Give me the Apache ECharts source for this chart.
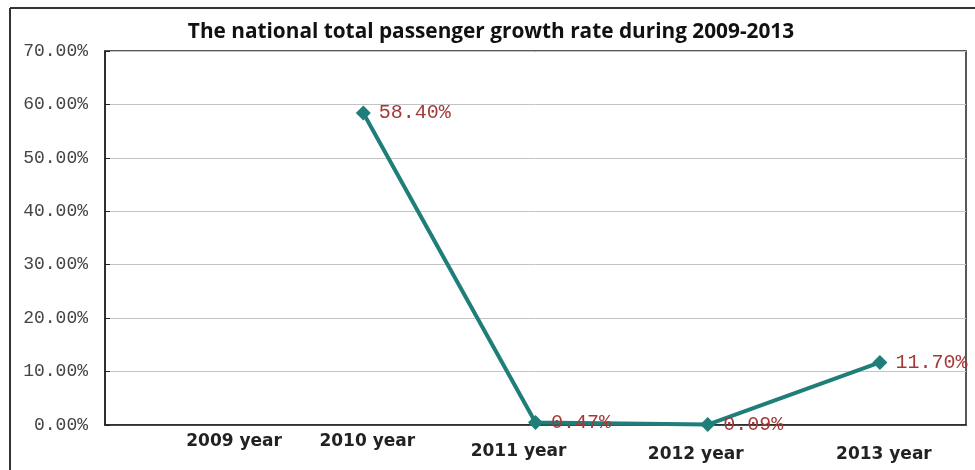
<!DOCTYPE html>
<html>
<head>
<meta charset="utf-8">
<script src="https://cdn.jsdelivr.net/npm/echarts@6/dist/echarts.min.js"></script>
<style>
html,body{margin:0;padding:0;background:#fff;}
#chart{width:975px;height:470px;}
</style>
</head>
<body>
<div id="chart"></div>
<script>
const titleText = 'The national total passenger growth rate during 2009-2013';
const categories = ['2009 year', '2010 year', '2011 year', '2012 year', '2013 year'];
const growthRate = [null, 58.40, 0.47, 0.09, 11.70];
const yTicks = [0, 10, 20, 30, 40, 50, 60, 70];

// per-label nudges of the category labels (as in the original picture)
const labelShiftX = [43, 4, -17, -12, 4];
const labelShiftY = [0, 0, 10, 13, 13];

const rich = {};
categories.forEach((c, i) => {
  const dx = labelShiftX[i], dy = labelShiftY[i];
  rich['l' + i] = {
    fontFamily: 'DejaVu Sans',
    fontWeight: 'bold',
    fontSize: 17,
    color: '#222',
    padding: [dy, dx < 0 ? -2 * dx : 0, 0, dx > 0 ? 2 * dx : 0]
  };
});

const chart = echarts.init(document.getElementById('chart'));
chart.setOption({
  animation: false,
  backgroundColor: '#fff',
  title: {
    text: titleText,
    left: 486,
    textAlign: 'center',
    top: 17,
    textStyle: {fontFamily: 'Open Sans', fontWeight: 700, fontSize: 20.8, color: '#111'}
  },
  graphic: [
    {type: 'line', shape: {x1: 10, y1: 8, x2: 975, y2: 8}, style: {stroke: '#333', lineWidth: 2}},
    {type: 'line', shape: {x1: 10, y1: 8, x2: 10, y2: 470}, style: {stroke: '#333', lineWidth: 2}}
  ],
  grid: {
    left: 105, top: 51, right: 9, bottom: 45,
    show: true, borderColor: '#222', borderWidth: 1.5, backgroundColor: '#fff'
  },
  xAxis: {
    type: 'category',
    data: categories,
    boundaryGap: true,
    axisLine: {lineStyle: {color: '#222', width: 1.5}},
    axisTick: {inside: true, length: 4, lineStyle: {color: '#222'}},
    axisLabel: {
      margin: 8,
      interval: 0,
      formatter: (v, i) => '{l' + i + '|' + v + '}',
      rich: rich
    }
  },
  yAxis: {
    type: 'value',
    min: yTicks[0],
    max: yTicks[yTicks.length - 1],
    interval: 10,
    axisLine: {show: true, lineStyle: {color: '#222', width: 1.5}},
    axisTick: {show: true, inside: true, length: 5, lineStyle: {color: '#222'}},
    splitLine: {lineStyle: {color: '#c4c4c4', width: 1}},
    axisLabel: {
      margin: 17,
      fontFamily: 'Liberation Mono',
      fontSize: 18,
      color: '#444',
      formatter: v => v.toFixed(2) + '%'
    }
  },
  series: [{
    type: 'line',
    data: growthRate,
    connectNulls: false,
    symbol: 'diamond',
    symbolSize: 15,
    lineStyle: {color: '#1f7e79', width: 4},
    itemStyle: {color: '#1f7e79'},
    label: {
      show: true,
      position: 'right',
      distance: 8,
      fontFamily: 'Liberation Mono',
      fontSize: 20,
      color: '#a33a3a',
      formatter: p => p.value == null ? '' : p.value.toFixed(2) + '%'
    }
  }]
});
</script>
</body>
</html>
